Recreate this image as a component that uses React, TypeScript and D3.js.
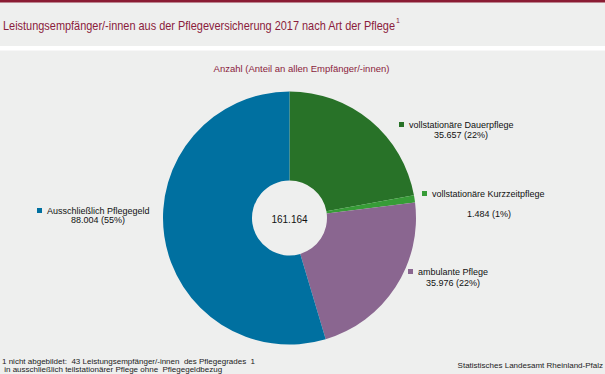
import React from 'react';
import * as d3 from 'd3';

// data
const categories = [
  'vollstationäre Dauerpflege',
  'vollstationäre Kurzzeitpflege',
  'ambulante Pflege',
  'Ausschließlich Pflegegeld',
];
const values = [35657, 1484, 35976, 88004];
const shareLabels = ['22%', '1%', '22%', '55%'];
const valueLabels = ['35.657', '1.484', '35.976', '88.004'];
const totalLabel = '161.164';
const colors = ['#287228', '#379c37', '#8a6690', '#0070a0'];

const title = 'Leistungsempfänger/-innen aus der Pflegeversicherung 2017 nach Art der Pflege';
const subtitle = 'Anzahl (Anteil an allen Empfänger/-innen)';
const footnote1 = '1 nicht abgebildet:  43 Leistungsempfänger/-innen  des Pflegegrades  1';
const footnote2 = ' in ausschließlich teilstationärer Pflege ohne  Pflegegeldbezug';
const source = 'Statistisches Landesamt Rheinland-Pfalz';

// layout
const width = 605, height = 374;
const cx = 289.5, cy = 218;
const outerR = 126.5, innerR = 37.5;
const BG = '#eeefee';
const RED = '#8b1c3c';
const FONT = '"Liberation Sans", Arial, sans-serif';

// label anchors: legend square position, value line x-center and baseline
const labelLayout = [
  { x: 399, y: 122, vx: 461, vy: 138 },
  { x: 422, y: 191, vx: 489, vy: 217 },
  { x: 408, y: 269, vx: 453, vy: 286 },
  { x: 37, y: 208, vx: 98, vy: 223 },
];

const App = () => {
  const pie = d3.pie<number>().sort(null).value(d => d);
  const arcs = pie(values);
  const arc = d3.arc<d3.PieArcDatum<number>>().innerRadius(innerR).outerRadius(outerR);

  return (
    <svg
      width={width}
      height={height}
      style={{ position: 'absolute', left: 0, top: 0, fontFamily: FONT }}
    >
      <rect x={0} y={0} width={width} height={height} fill={BG} />
      <rect x={0} y={0} width={width} height={2.5} fill="#8a1c33" />
      <rect x={0} y={46} width={width} height={4.5} fill="#ffffff" />

      <text x={3} y={30} fontSize={13} fill={RED}>
        <tspan textLength={392} lengthAdjust="spacingAndGlyphs">{title}</tspan>
        <tspan dx={1} dy={-7} fontSize={7}>1</tspan>
      </text>

      <text x={301.5} y={71.5} fontSize={9.5} fill={RED} textAnchor="middle">
        {subtitle}
      </text>

      <g transform={`translate(${cx},${cy})`}>
        {arcs.map((a, i) => (
          <path key={categories[i]} d={arc(a) || ''} fill={colors[i]} />
        ))}
        <text x={0} y={4.5} fontSize={10} textAnchor="middle" fill="#111">
          {totalLabel}
        </text>
      </g>

      {categories.map((c, i) => {
        const l = labelLayout[i];
        return (
          <g key={c} fontSize={9} fill="#111">
            <rect x={l.x} y={l.y} width={5} height={5} fill={colors[i]} />
            <text x={l.x + 10} y={l.y + 5.5}>{c}</text>
            <text x={l.vx} y={l.vy} textAnchor="middle">
              {`${valueLabels[i]} (${shareLabels[i]})`}
            </text>
          </g>
        );
      })}

      <text x={2} y={364} fontSize={8} fill="#222" style={{ whiteSpace: 'pre' }}>{footnote1}</text>
      <text x={2} y={372} fontSize={8} fill="#222" style={{ whiteSpace: 'pre' }}>{footnote2}</text>
      <text x={603} y={368} fontSize={8} fill="#222" textAnchor="end">{source}</text>
    </svg>
  );
};

export default App;
